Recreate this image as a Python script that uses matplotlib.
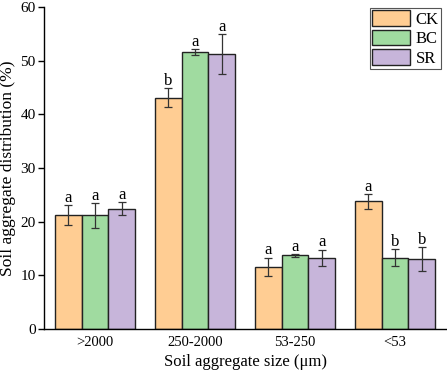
import numpy as np
import matplotlib
matplotlib.use("Agg")
import matplotlib.pyplot as plt

plt.rcParams['font.family'] = ['Liberation Serif', 'DejaVu Serif']

# datos
categorias = [">2000", "250-2000", "53-250", "<53"]
series = ["CK", "BC", "SR"]
ck = [21.2, 43.1, 11.6, 23.8]
bc = [21.2, 51.6, 13.7, 13.3]
sr = [22.4, 51.2, 13.3, 13.0]
ck_err = [1.9, 1.8, 1.7, 1.4]
bc_err = [2.3, 0.5, 0.2, 1.6]
sr_err = [1.2, 3.7, 1.5, 2.2]
ck_let = ["a", "b", "a", "a"]
bc_let = ["a", "a", "a", "b"]
sr_let = ["a", "a", "a", "b"]

valores = [ck, bc, sr]
errores = [ck_err, bc_err, sr_err]
letras = [ck_let, bc_let, sr_let]
colores = ["#FFCD93", "#A0DBA0", "#C7B5DA"]

fig = plt.figure(figsize=(4.47, 3.75), dpi=100)
ax = fig.add_axes([44/447, 1 - 329/375, 402/447, 322/375])

x = np.arange(len(categorias))
ancho = 0.267

for i, s in enumerate(series):
    pos = x + (i - 1) * ancho
    ax.bar(pos, valores[i], width=ancho, color=colores[i], edgecolor="#222222",
           linewidth=1.0, label=s, zorder=2)
    ax.errorbar(pos, valores[i], yerr=errores[i], fmt="none", ecolor="#333333",
                elinewidth=0.9, capsize=3, capthick=0.9, zorder=3)
    for p, v, e, l in zip(pos, valores[i], errores[i], letras[i]):
        ax.text(p, v + e + 0.6, l, ha="center", va="baseline", fontsize=12, zorder=4)

ax.set_xlim(-0.51, 3.51)
ax.set_ylim(0, 60)
ax.set_yticks(range(0, 61, 10))
ax.set_xticks(x)
ax.set_xticklabels(categorias, fontsize=10.5)
ax.tick_params(axis="y", labelsize=11, direction="out", length=4, width=1, pad=2)
ax.tick_params(axis="x", length=0, pad=5)
ax.spines["top"].set_visible(False)
ax.spines["right"].set_visible(False)
ax.spines["left"].set_linewidth(1)
ax.spines["bottom"].set_linewidth(1)

ax.set_xlabel("Soil aggregate size (μm)", fontsize=12, labelpad=4)
ax.set_ylabel("Soil aggregate distribution (%)", fontsize=12.5, labelpad=3)

leg = ax.legend(loc="upper right", bbox_to_anchor=(0.9876, 0.997), fontsize=12,
                handlelength=2.3, handleheight=1.05, labelspacing=0.12,
                handletextpad=0.3, borderpad=0.15, borderaxespad=0,
                fancybox=False, edgecolor="#555555", framealpha=1)
leg.get_frame().set_linewidth(0.8)

plt.savefig("out.png", dpi=100)
